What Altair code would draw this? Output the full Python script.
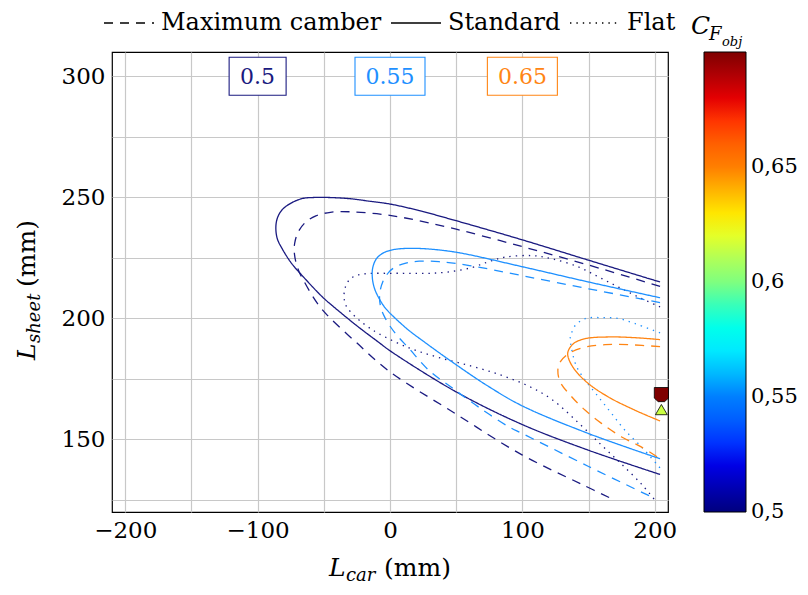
import altair as alt
import pandas as pd

FONT = "DejaVu Serif"

# ---------------- contour lines ----------------
# 0.5 level
std05_x = [204, 150, 100, 50, 22, 0, -16, -30, -46, -58, -66.1, -74, -81.2, -84.8, -86.2, -85.2, -81.2, -74.5, -66.1, -51, -40.9, -25, -8.3, 0, 50, 100, 150, 204]
std05_y = [215.0, 224.0, 232.4, 240.3, 244.5, 247.2, 248.4, 249.4, 249.9, 249.9, 249.5, 247.8, 245.0, 241.8, 238.0, 233.0, 228.5, 222.8, 217.5, 208.8, 204.0, 196.9, 190.0, 186.6, 169.6, 156.1, 145.5, 135.5]
cam05_x = [204, 150, 100, 50, 10, -10, -30, -45, -56, -64, -69.5, -72, -72.3, -71, -68.6, -66.1, -60, -53.5, -46, -25.8, -0.75, 49.5, 99.7, 145, 170]
cam05_y = [213.2, 222.0, 229.6, 236.8, 241.6, 243.2, 244.0, 243.8, 242.3, 239.6, 235.5, 231.0, 227.4, 223.0, 219.1, 216.5, 210.5, 205.2, 200.5, 190.2, 178.2, 160.6, 143.6, 131.4, 124.8]
flat05_x = [204, 187.6, 172.6, 157.5, 142.4, 122.3, 107.2, 87.2, 74.6, 62, 45, 30, 15, 0, -15.8, -25, -30.5, -33.8, -34.7, -33, -30, -24, -17, -8.3, 14.3, 36.9, 62, 84.6, 104.7, 122.3, 142.4, 160, 175, 190, 200]
flat05_y = [204.7, 208.8, 212.9, 217.1, 221.2, 224.6, 225.9, 225.3, 223.4, 221.0, 219.2, 218.6, 218.6, 218.6, 218.5, 217.8, 216.0, 212.8, 208.5, 205.0, 202.8, 199.6, 196.6, 193.6, 187.8, 183.8, 180.2, 176.4, 172.0, 166.5, 156.8, 147.5, 139.7, 131.5, 125.0]
# 0.55 level
std055_x = [204, 150, 100, 52, 30, 15, 4, -4, -10, -13, -13.3, -11.5, -7.5, -3.2, 4, 14.3, 25, 49.5, 74.6, 100, 150, 204]
std055_y = [208.5, 215.0, 221.3, 227.1, 228.6, 228.9, 228.5, 227.3, 224.8, 221.0, 216.5, 212.0, 207.5, 204.0, 200.0, 195.0, 190.6, 181.0, 171.8, 163.8, 152.4, 142.0]
cam055_x = [204, 150, 100, 60, 37, 22, 12, 4, -1, -5.5, -7.8, -7.2, -4, 1, 6, 14.3, 29.4, 46.9, 67, 89.7, 100, 150, 197.7]
cam055_y = [206.5, 212.2, 217.6, 221.8, 223.4, 223.6, 222.8, 221.2, 219.0, 215.0, 210.0, 205.0, 200.5, 196.0, 192.5, 187.6, 178.5, 171.3, 163.3, 155.2, 152.4, 138.8, 126.2]
flat055_x = [204, 185.2, 172.6, 160, 147.5, 140, 137.4, 136.2, 137.4, 141.1, 147.5, 157.5, 167.5, 177.6, 190.1, 204]
flat055_y = [194.0, 197.8, 199.9, 200.3, 199.9, 197.1, 194.3, 192.3, 186.8, 179.9, 174.4, 167.5, 160.6, 153.7, 146.8, 138.2]
# 0.65 level
std065_x = [204, 185.2, 165, 147.5, 138.7, 134.4, 134.9, 139.9, 150, 165, 185.2, 204]
std065_y = [191.2, 192.0, 192.3, 191.6, 189.6, 186.1, 183.4, 178.5, 173.0, 167.5, 162.0, 157.6]
cam065_x = [204, 180.1, 162.5, 147.5, 134.9, 128.6, 126.8, 128.6, 137.4, 147.5, 160, 175, 190.1, 204]
cam065_y = [188.3, 189.1, 189.1, 188.1, 185.4, 182.0, 178.5, 173.7, 167.5, 162.0, 156.5, 151.0, 146.8, 142.0]

levels = ["0.5", "0.55", "0.65"]
level_colors = ["#1a1a80", "#1e90ff", "#ff8514"]
styles = ["Maximum camber", "Standard", "Flat"]

curves = [
    ("0.5", "Standard", std05_x, std05_y),
    ("0.5", "Maximum camber", cam05_x, cam05_y),
    ("0.5", "Flat", flat05_x, flat05_y),
    ("0.55", "Standard", std055_x, std055_y),
    ("0.55", "Maximum camber", cam055_x, cam055_y),
    ("0.55", "Flat", flat055_x, flat055_y),
    ("0.65", "Standard", std065_x, std065_y),
    ("0.65", "Maximum camber", cam065_x, cam065_y),
]

rows = []
for cid, (lev, sty, xs, ys) in enumerate(curves):
    col = level_colors[levels.index(lev)]
    for i, (xv, yv) in enumerate(zip(xs, ys)):
        rows.append({"cid": cid, "level": lev, "style": sty, "col": col, "i": i, "x": xv, "y": yv})
lines_df = pd.DataFrame(rows)

# level label boxes
label_x = [-100, 0, 100]
label_y = [300, 300, 300]
labels_df = pd.DataFrame({"x": label_x, "y": label_y, "t": levels, "col": level_colors, "level": levels})

# optimum markers
mk_x = [205, 205]
mk_y = [168.5, 162.3]
mk_c = [0.7, 0.615]
mk_m = ["pin", "tri"]
marks_df = pd.DataFrame({"x": mk_x, "y": mk_y, "c": mk_c, "m": mk_m})

JET = ["#00007f", "#0000ff", "#007fff", "#00ffff", "#7fff7f", "#ffff00", "#ff7f00", "#ff0000", "#7f0000"]

xscale = alt.Scale(domain=[-210, 210], nice=False, zero=False)
yscale = alt.Scale(domain=[120, 310], nice=False, zero=False)

xaxis = alt.Axis(values=list(range(-200, 201, 50)),
                 labelExpr="datum.value % 100 == 0 ? datum.label : ''",
                 grid=True, gridColor="#c8c8c8", gridWidth=1.2, domain=False, ticks=False,
                 labelFont=FONT, labelFontSize=23, labelColor="black", labelPadding=7,
                 labelFlush=False, labelOverlap=False, title=None)
yaxis = alt.Axis(values=list(range(125, 301, 25)),
                 labelExpr="datum.value % 50 == 0 ? datum.label : ''",
                 grid=True, gridColor="#c8c8c8", gridWidth=1.2, domain=False, ticks=False,
                 labelFont=FONT, labelFontSize=23, labelColor="black", labelPadding=7,
                 labelFlush=False, labelOverlap=False, title=None)

X = alt.X("x:Q", scale=xscale, axis=xaxis)
Y = alt.Y("y:Q", scale=yscale, axis=yaxis)

lines = alt.Chart(lines_df).mark_line(interpolate="catmull-rom", strokeWidth=1.3, clip=True).encode(
    x=X, y=Y,
    stroke=alt.Stroke("col:N", scale=None),
    strokeDash=alt.StrokeDash("style:N",
        scale=alt.Scale(domain=styles, range=[[9, 7], [1, 0], [1.4, 5]]),
        legend=alt.Legend(title=None, orient="none", legendX=-9, legendY=-55,
                          direction="horizontal", columns=3, symbolType="stroke",
                          symbolSize=2500, symbolStrokeWidth=1.3, symbolStrokeColor="black",
                          labelFont=FONT, labelFontSize=24, labelColor="black",
                          labelOffset=6, columnPadding=6, padding=0, labelLimit=400)),
    detail="cid:N",
    order="i:Q",
)

box_paths = ["M-0.814,-0.543H0.814V0.543H-0.814Z", "M-1,-0.543H1V0.543H-1Z", "M-1,-0.543H1V0.543H-1Z"]
boxes = alt.Chart(labels_df).mark_point(filled=False, size=4900, strokeWidth=1.1, fill="white", fillOpacity=1, opacity=1).encode(
    x=X, y=Y,
    stroke=alt.Stroke("col:N", scale=None),
    shape=alt.Shape("level:N", scale=alt.Scale(domain=levels, range=box_paths), legend=None),
)
texts = alt.Chart(labels_df).mark_text(font=FONT, fontSize=22, baseline="middle", dy=1).encode(
    x=X, y=Y, text="t:N", fill=alt.Fill("col:N", scale=None)
)

pin = "M-1,-1H1V0.5L0.45,1H-0.45L-1,0.5Z"
points = alt.Chart(marks_df).mark_point(filled=True, opacity=1, stroke="black", strokeWidth=0.8).encode(
    x=X, y=Y,
    color=alt.Color("c:Q", scale=alt.Scale(domain=[0.4999, 0.7], range=JET),
        legend=alt.Legend(title=None, orient="none", legendX=592, legendY=0, direction="vertical",
                          gradientLength=460, gradientThickness=42, gradientStrokeColor="black",
                          gradientStrokeWidth=1, values=[0.5, 0.55, 0.6, 0.65],
                          labelExpr="replace(format(datum.value, '.2~f'), '.', ',')",
                          labelFont=FONT, labelFontSize=21, labelColor="black", labelOffset=5,
                          labelBaseline="middle", labelOverlap=False, padding=0)),
    shape=alt.Shape("m:N", scale=alt.Scale(domain=["pin", "tri"], range=[pin, "triangle-up"]), legend=None),
    size=alt.Size("m:N", scale=alt.Scale(domain=["pin", "tri"], range=[200, 140]), legend=None),
)


def txt(s, px, py, size=25, style="normal", angle=0, align="left"):
    return alt.Chart(pd.DataFrame({"t": [s]})).mark_text(
        font=FONT, fontSize=size, fontStyle=style, align=align, baseline="alphabetic", angle=angle
    ).encode(x=alt.value(px), y=alt.value(py), text="t:N")

# x-axis title  L_car (mm)
xt = [txt("L", 217, 524, style="italic"), txt("car", 234, 529, size=18, style="italic"), txt("(mm)", 272, 524)]
# y-axis title  L_sheet (mm)
yt = [txt("L", -77, 308, style="italic", angle=270), txt("sheet", -72, 291, size=18, style="italic", angle=270),
      txt("(mm)", -77, 235, angle=270)]
# colorbar title C_F_obj
ct = [txt("C", 579, -18, style="italic"), txt("F", 597, -12, size=18, style="italic"),
      txt("obj", 610, -6, size=13, style="italic")]

chart = alt.layer(lines, boxes, texts, points, *xt, *yt, *ct).properties(
    width=556, height=460,
    autosize=alt.AutoSizeParams(type="none"),
    padding={"left": 104, "top": 44, "right": 132, "bottom": 75},
).configure(font=FONT).configure_view(stroke="black", strokeWidth=1.2).configure_axis(
    labelFont=FONT).configure_legend(labelFont=FONT).configure_text(font=FONT).resolve_scale(
    shape="independent", size="independent")

chart.save("out.html", embed_options={"renderer": "svg", "actions": False})
